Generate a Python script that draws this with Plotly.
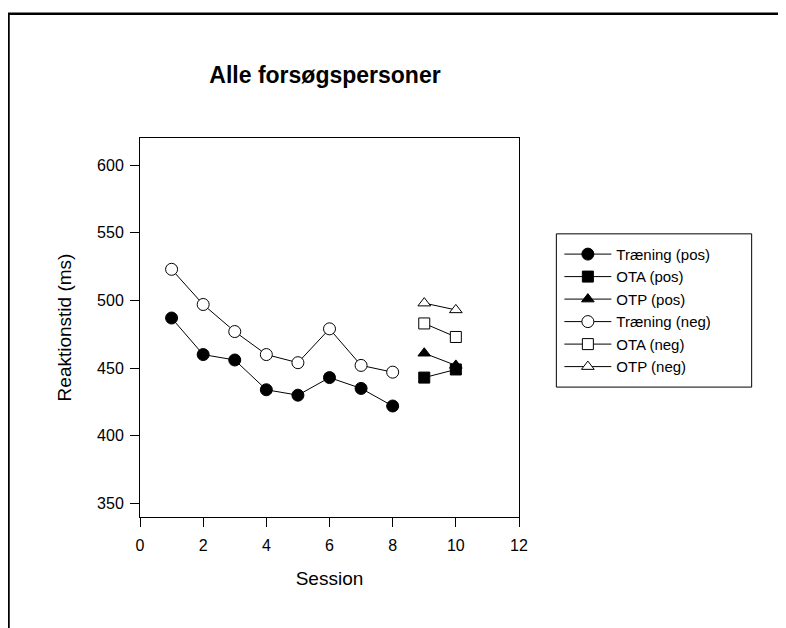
import plotly.graph_objects as go

sessions_train = [1, 2, 3, 4, 5, 6, 7, 8]
sessions_test = [9, 10]

train_pos = [487, 460, 456, 434, 430, 443, 435, 422]
ota_pos = [443, 449]
otp_pos = [461, 452]
train_neg = [523, 497, 477, 460, 454, 479, 452, 447]
ota_neg = [483, 473]
otp_neg = [498, 493]

FONT = "Liberation Sans, Arial, sans-serif"

OFF = 8  # page body margin
W, H = 786 - OFF, 628 - OFF
L, R, T, B = 140.3 - OFF, 518.7 - OFF, 138.3 - OFF, 516.7 - OFF
pw, ph = R - L, B - T


def px_x(p):
    return (p - OFF - L) / pw


def px_y(p):
    return (B - (p - OFF)) / ph


def trace(x, y, name, symbol, filled, rank):
    return go.Scatter(
        x=x, y=y, name=name, mode="lines+markers",
        line=dict(color="black", width=1),
        marker=dict(symbol=symbol, size=12 if symbol == "circle" else 11,
                    color="black" if filled else "white",
                    line=dict(color="black", width=1)),
        legendrank=rank,
    )


fig = go.Figure()
fig.add_trace(trace(sessions_train, train_pos, "Træning (pos)", "circle", True, 1))
fig.add_trace(trace(sessions_test, otp_pos, "OTP (pos)", "triangle-up", True, 3))
fig.add_trace(trace(sessions_test, ota_pos, "OTA (pos)", "square", True, 2))
fig.add_trace(trace(sessions_train, train_neg, "Træning (neg)", "circle", False, 4))
fig.add_trace(trace(sessions_test, ota_neg, "OTA (neg)", "square", False, 5))
fig.add_trace(trace(sessions_test, otp_neg, "OTP (neg)", "triangle-up", False, 6))

# outer frame (open to right and bottom)
fig.add_shape(type="path", xref="paper", yref="paper",
              path=f"M {px_x(9)} {px_y(720)} L {px_x(9)} {px_y(14.3)} L {px_x(900)} {px_y(14.3)}",
              line=dict(color="black", width=2.5))
# legend box
fig.add_shape(type="rect", xref="paper", yref="paper",
              x0=px_x(556), x1=px_x(751), y0=px_y(234), y1=px_y(387),
              line=dict(color="black", width=1), fillcolor="white", layer="below")

fig.update_layout(
    width=W, height=H,
    margin=dict(l=L, r=W - R, t=T, b=H - B, pad=0),
    paper_bgcolor="white", plot_bgcolor="white",
    font=dict(family=FONT, size=16, color="black"),
    title=dict(text="<b>Alle forsøgspersoner</b>", x=px_x(325), xanchor="center", xref="paper",
               y=1 - (75 - OFF) / H, yanchor="middle", font=dict(size=23, family=FONT)),
    showlegend=True,
    legend=dict(x=px_x(559), y=px_y(238), xanchor="left", yanchor="top",
                borderwidth=0, bgcolor="rgba(0,0,0,0)", itemwidth=47,
                font=dict(size=15, family=FONT), tracegroupgap=0),
    xaxis=dict(range=[0, 12], tickvals=[0, 2, 4, 6, 8, 10, 12], ticks="outside", ticklen=9,
               tickwidth=1, tickcolor="black", showline=True, linecolor="black", linewidth=1,
               mirror=True, showgrid=False, zeroline=False, ticklabelstandoff=5,
               title=dict(text="Session", standoff=18)),
    yaxis=dict(range=[340, 620], tickvals=[350, 400, 450, 500, 550, 600], ticks="outside",
               ticklen=9, tickwidth=1, tickcolor="black", showline=True, linecolor="black",
               linewidth=1, mirror=True, showgrid=False, zeroline=False, ticklabelstandoff=3,
               title=dict(text="Reaktionstid (ms)", standoff=20)),
)

fig.write_html("out.html")
